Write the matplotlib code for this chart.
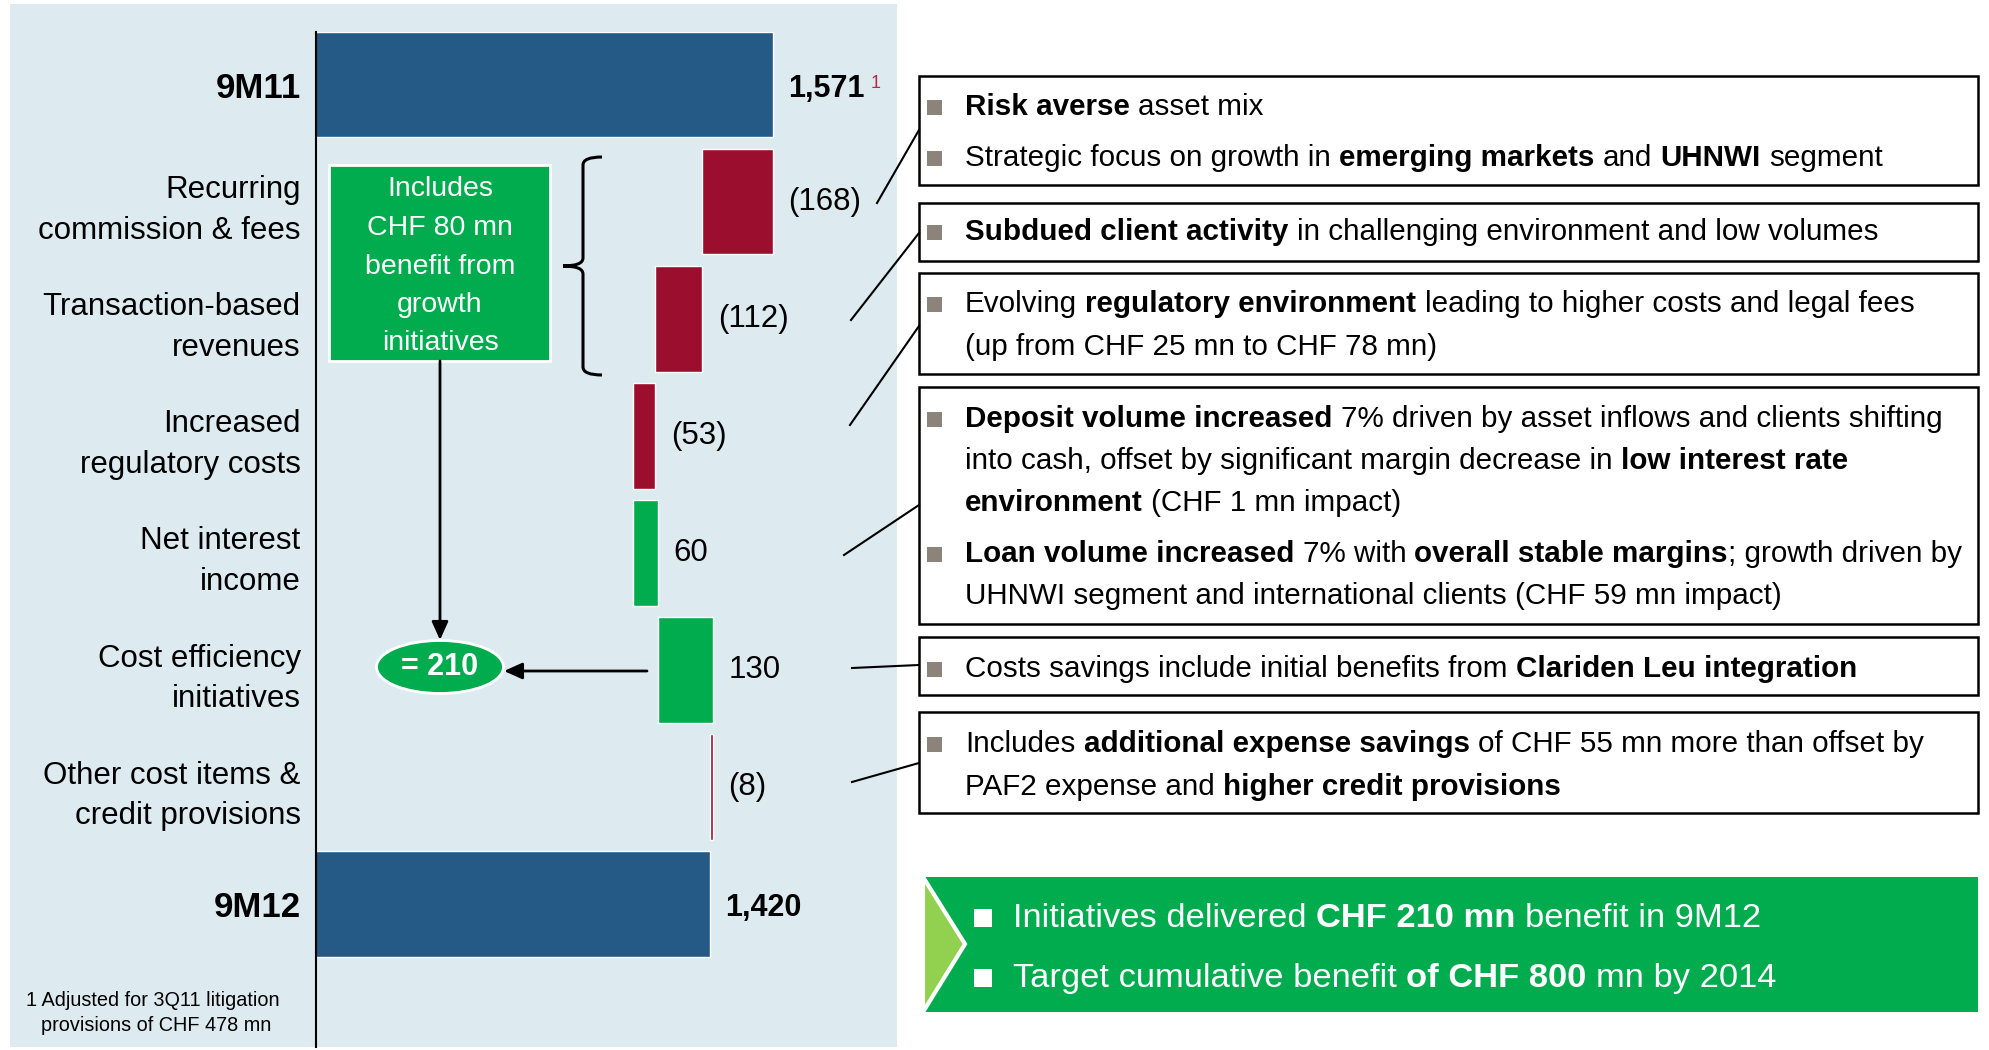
import matplotlib
matplotlib.use("Agg")
import matplotlib.pyplot as plt
from matplotlib.patches import Rectangle, Ellipse, Polygon, FancyArrowPatch, PathPatch
from matplotlib.path import Path
from matplotlib.lines import Line2D

W, H = 1989, 1050

# ---- data -------------------------------------------------------------
categories = ["9M11", "Recurring\ncommission & fees", "Transaction-based\nrevenues",
              "Increased\nregulatory costs", "Net interest\nincome",
              "Cost efficiency\ninitiatives", "Other cost items &\ncredit provisions", "9M12"]
deltas = [1571, -168, -112, -53, 60, 130, -8, 1420]
is_total = [True, False, False, False, False, False, False, True]
value_labels = ["1,571", "(168)", "(112)", "(53)", "60", "130", "(8)", "1,420"]

growth_box_lines = ["Includes", "CHF 80 mn", "benefit from", "growth", "initiatives"]
initiatives_total = "= 210"
footnote_lines = ["1 Adjusted for 3Q11 litigation", "provisions of CHF 478 mn"]

# comment boxes: (top, bottom, [(baseline, bullet, segments)])
boxes = [
    (76, 185, [
        (115, True, [("Risk averse", True), (" asset mix", False)]),
        (166, True, [("Strategic focus on growth in ", False), ("emerging markets", True),
                     (" and ", False), ("UHNWI", True), (" segment", False)]),
    ]),
    (203, 261, [
        (240, True, [("Subdued client activity", True),
                     (" in challenging environment and low volumes", False)]),
    ]),
    (273, 374, [
        (312, True, [("Evolving ", False), ("regulatory environment", True),
                     (" leading to higher costs and legal fees", False)]),
        (355, False, [("(up from CHF 25 mn to CHF 78 mn)", False)]),
    ]),
    (387, 624, [
        (427, True, [("Deposit volume increased", True),
                     (" 7% driven by asset inflows and clients shifting", False)]),
        (469, False, [("into cash, offset by significant margin decrease in ", False),
                      ("low interest rate", True)]),
        (511, False, [("environment", True), (" (CHF 1 mn impact)", False)]),
        (562, True, [("Loan volume increased", True), (" 7% with ", False),
                     ("overall stable margins", True), ("; growth driven by", False)]),
        (604, False, [("UHNWI segment and international clients (CHF 59 mn impact)", False)]),
    ]),
    (637, 695, [
        (677, True, [("Costs savings include initial benefits from ", False),
                     ("Clariden Leu integration", True)]),
    ]),
    (712, 813, [
        (752, True, [("Includes ", False), ("additional expense savings", True),
                     (" of CHF 55 mn more than offset by", False)]),
        (795, False, [("PAF2 expense and ", False), ("higher credit provisions", True)]),
    ]),
]

banner_lines = [
    (927, [("Initiatives delivered ", False), ("CHF 210 mn", True), (" benefit in 9M12", False)]),
    (987, [("Target cumulative benefit ", False), ("of CHF 800", True), (" mn by 2014", False)]),
]

# connector lines from value labels to comment boxes (pixel coords)
connectors = [((877, 203), (919, 130)), ((851, 320), (919, 233)), ((850, 425), (919, 326)),
              ((844, 555), (919, 505)), ((852, 668), (919, 665)), ((852, 782), (919, 763))]

# ---- style ------------------------------------------------------------
BLUE = "#255A87"
RED = "#9C0E2D"
GREEN = "#00AC4E"
LIGHT_GREEN = "#92D050"
PANEL = "#DDEBF1"
BULLET = "#8C837B"
LIGHT = "normal"

plt.rcParams["font.family"] = ["Liberation Sans", "DejaVu Sans"]


def fx(x):
    return x / W


def fy(y):
    return 1 - y / H


fig = plt.figure(figsize=(W / 100, H / 100), dpi=100)
renderer = fig.canvas.get_renderer()

# light blue panel behind the waterfall
fig.add_artist(Rectangle((fx(10), fy(1047)), (897 - 10) / W, (1047 - 4) / H,
                         transform=fig.transFigure, facecolor=PANEL, edgecolor="none", zorder=-5))

# ---- waterfall --------------------------------------------------------
ax = fig.add_axes([fx(316), fy(1047), (897 - 316) / W, (1047 - 32) / H])
ax.set_facecolor("none")

lefts, widths, colors = [], [], []
running = 0
for d, tot in zip(deltas, is_total):
    if tot:
        lefts.append(0)
        widths.append(d)
        colors.append(BLUE)
        running = d
    else:
        lefts.append(running if d > 0 else running + d)
        widths.append(abs(d))
        colors.append(GREEN if d > 0 else RED)
        running += d

rows = list(range(len(categories)))
ax.barh(rows, widths, left=lefts, height=0.9, color=colors, edgecolor="white", linewidth=1.0)

for i, lab in enumerate(value_labels):
    ax.annotate(lab, (lefts[i] + widths[i], i), xytext=(11, -3 if is_total[i] else 0),
                textcoords="offset points", va="center", ha="left",
                fontsize=22 if is_total[i] else 22.5,
                fontweight="bold" if is_total[i] else LIGHT)

ax.set_xlim(483, 1866)
ax.set_ylim(8.22, -0.45)
ax.set_xticks([])
ax.set_yticks(rows)
ax.set_yticklabels(categories, fontsize=22.5, fontweight=LIGHT, linespacing=1.45)
for t, tot in zip(ax.get_yticklabels(), is_total):
    if tot:
        t.set_fontweight("bold")
        t.set_fontsize(25)
ax.tick_params(axis="y", length=0, pad=11)
for s in ["top", "right", "bottom"]:
    ax.spines[s].set_visible(False)
ax.spines["left"].set_linewidth(1.5)

# superscript footnote marker
fig.text(fx(871), fy(75), "1", color="#B5294A", fontsize=13, va="top", fontweight=LIGHT)

# green "growth initiatives" box
fig.add_artist(Rectangle((fx(329), fy(361)), (550 - 329) / W, (361 - 165) / H, transform=fig.transFigure,
                         facecolor=GREEN, edgecolor="white", linewidth=2, zorder=3))
for k, line in enumerate(growth_box_lines):
    fig.text(fx(440), fy(196.5 + 38.5 * k), line, color="white", fontsize=20.5, fontweight=LIGHT,
             ha="center", va="baseline", zorder=4)

# brace
bx, by0, by1, tipx, tipy = 583, 157, 375, 563, 266
brace = Path([(602, by0), (bx, by0), (bx, by0 + 8), (bx, tipy - 8), (bx, tipy), (tipx, tipy),
              (bx, tipy), (bx, tipy + 8), (bx, by1 - 8), (bx, by1), (602, by1)],
             [Path.MOVETO, Path.CURVE3, Path.CURVE3, Path.LINETO, Path.CURVE3, Path.CURVE3,
              Path.CURVE3, Path.CURVE3, Path.LINETO, Path.CURVE3, Path.CURVE3])
brace = Path([(fx(x), fy(y)) for x, y in brace.vertices], brace.codes)
fig.add_artist(PathPatch(brace, transform=fig.transFigure, facecolor="none", edgecolor="black",
                         linewidth=2.2, zorder=3))

# arrows and result ellipse
arrow_kw = dict(transform=fig.transFigure, arrowstyle="-|>,head_length=1.0,head_width=0.45",
                mutation_scale=11, color="black", linewidth=2, shrinkA=0, shrinkB=0, zorder=3)
fig.add_artist(FancyArrowPatch((fx(440), fy(361)), (fx(440), fy(640)), **arrow_kw))
fig.add_artist(FancyArrowPatch((fx(647), fy(671)), (fx(504), fy(671)), **arrow_kw))
fig.add_artist(Ellipse((fx(440), fy(667)), 127 / W, 53 / H, transform=fig.transFigure,
                       facecolor=GREEN, edgecolor="white", linewidth=2, zorder=4))
fig.text(fx(440), fy(667), initiatives_total, color="white", fontsize=22, fontweight="bold",
         ha="center", va="center", zorder=5)

# footnote
fig.text(fx(26), fy(1006), footnote_lines[0], fontsize=14.3, fontweight=LIGHT, va="baseline")
fig.text(fx(41), fy(1031), footnote_lines[1], fontsize=14.3, fontweight=LIGHT, va="baseline")


# ---- rich text helper -------------------------------------------------
def width_of(s, size, weight):
    t = fig.text(0, 0, s, fontsize=size, fontweight=weight)
    w = t.get_window_extent(renderer).width
    t.remove()
    return w


def rich_line(x, y, segments, size, color):
    for s, bold in segments:
        weight = "bold" if bold else LIGHT
        sw = width_of("a a", size, weight) - width_of("aa", size, weight)
        core = s.strip(" ")
        x += (len(s) - len(s.lstrip(" "))) * sw
        t = fig.text(fx(x), fy(y), core, fontsize=size, fontweight=weight, color=color,
                     ha="left", va="baseline", zorder=6)
        x += t.get_window_extent(renderer).width
        x += (len(s) - len(s.rstrip(" "))) * sw


# ---- comment boxes ----------------------------------------------------
for top, bottom, lines in boxes:
    fig.add_artist(Rectangle((fx(919), fy(bottom)), (1978 - 919) / W, (bottom - top) / H,
                             transform=fig.transFigure, facecolor="white", edgecolor="black",
                             linewidth=1.8, zorder=2))
    for base, bullet, segs in lines:
        if bullet:
            fig.add_artist(Rectangle((fx(927), fy(base)), 15 / W, 15 / H, transform=fig.transFigure,
                                     facecolor=BULLET, edgecolor="none", zorder=5))
        rich_line(965, base, segs, 21.3, "black")

for (x0, y0), (x1, y1) in connectors:
    fig.add_artist(Line2D([fx(x0), fx(x1)], [fy(y0), fy(y1)], transform=fig.transFigure,
                          color="black", linewidth=1.5, zorder=3))

# ---- green banner -----------------------------------------------------
fig.add_artist(Rectangle((fx(923), fy(1012)), (1978 - 923) / W, (1012 - 877) / H,
                         transform=fig.transFigure, facecolor=GREEN, edgecolor="none", zorder=2))
fig.add_artist(Polygon([(fx(923), fy(877)), (fx(965), fy(944)), (fx(923), fy(1012))], closed=True,
                       transform=fig.transFigure, facecolor=LIGHT_GREEN, edgecolor="white",
                       linewidth=3, zorder=3))
for base, segs in banner_lines:
    fig.add_artist(Rectangle((fx(974), fy(base)), 18 / W, 18 / H, transform=fig.transFigure,
                             facecolor="white", edgecolor="none", zorder=5))
    rich_line(1013, base, segs, 24.8, "white")

fig.savefig("out.png", dpi=100)
